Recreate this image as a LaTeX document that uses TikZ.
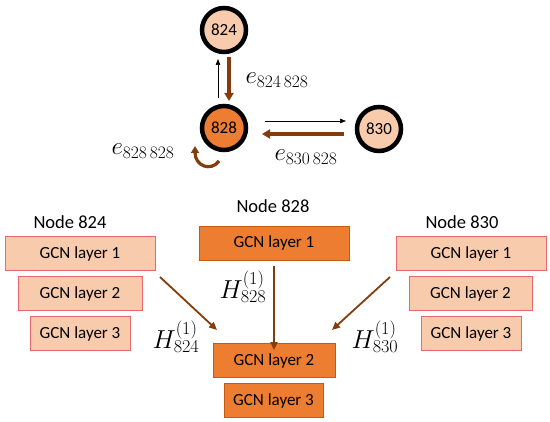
\RequirePackage{fix-cm}
\documentclass[tikz,border=0pt]{standalone}
\usepackage{fontspec}
\setmainfont{Carlito}
\usetikzlibrary{arrows.meta}
\definecolor{peach}{HTML}{F8CBAD}
\definecolor{orng}{HTML}{ED7D31}
\definecolor{brn}{HTML}{843C0C}
\definecolor{pinkb}{HTML}{E8686B}
\definecolor{orngb}{HTML}{C55A11}
\tikzset{
  gnode/.style={circle, draw=black, line width=4.5pt, minimum size=44pt, inner sep=0pt, font=\fontsize{17}{20}\selectfont},
  lightnode/.style={gnode, fill=peach},
  darknode/.style={gnode, fill=orng},
  gbox/.style={rectangle, minimum height=34pt, inner sep=0pt, font=\fontsize{17}{20}\selectfont},
  lightbox/.style={gbox, fill=peach, draw=pinkb, line width=1pt},
  darkbox/.style={gbox, fill=orng, draw=orngb, line width=0.8pt},
  title/.style={font=\fontsize{18.5}{22}\selectfont},
  elabel/.style={font=\fontsize{25}{30}\selectfont},
  hlabel/.style={font=\fontsize{26}{31}\selectfont},
  thinarrow/.style={-{Triangle[length=6pt,width=4.5pt]}, line width=0.6pt, black},
  brnarrow/.style={-{Triangle[length=8pt,width=9pt]}, line width=3.5pt, brn},
  layarrow/.style={-{Triangle[length=8pt,width=7pt]}, line width=1.8pt, brn},
}
\begin{document}
\begin{tikzpicture}[x=1pt,y=-1pt]
\useasboundingbox (0,0) rectangle (550,422);

% graph
\node[lightnode] (n824) at (224,30) {824};
\node[darknode]  (n828) at (224,128) {828};
\node[lightnode] (n830) at (379,129) {830};

\coordinate (a1s) at (218,98);  \coordinate (a1e) at (218,59);
\coordinate (a2s) at (229,57);  \coordinate (a2e) at (229,101);
\coordinate (a3s) at (265,121); \coordinate (a3e) at (346,121);
\coordinate (a4s) at (344,134); \coordinate (a4e) at (262,134);
\draw[thinarrow] (a1s) -- (a1e);
\draw[brnarrow] (a2s) -- (a2e);
\draw[thinarrow] (a3s) -- (a3e);
\draw[brnarrow] (a4s) -- (a4e);
\coordinate (ls) at (219,161);
\coordinate (le) at (195,146);
\draw[-{Triangle[length=7pt,width=8pt]}, line width=3.2pt, brn] (ls) .. controls (211,172) and (195,166) .. (le);

\node[elabel] (e1) at (277,80) {$e_{824\,828}$};
\node[elabel] (e2) at (306,157) {$e_{830\,828}$};
\node[elabel] (e3) at (143,151) {$e_{828\,828}$};

% titles
\node[title] (t824) at (70,222) {Node 824};
\node[title] (t828) at (273,206) {Node 828};
\node[title] (t830) at (462,222) {Node 830};

% left boxes
\node[lightbox, minimum width=150pt] (l1) at (80,253.5) {GCN layer 1};
\node[lightbox, minimum width=124pt] (l2) at (80,293.5) {GCN layer 2};
\node[lightbox, minimum width=100pt] (l3) at (80,333.5) {GCN layer 3};

% center boxes
\node[darkbox, minimum width=150pt] (c1) at (274,243) {GCN layer 1};
\node[darkbox, minimum width=122pt] (c2) at (274,360.5) {GCN layer 2};
\node[darkbox, minimum width=99pt] (c3) at (273.5,400.5) {GCN layer 3};

% right boxes
\node[lightbox, minimum width=150pt] (r1) at (471,254) {GCN layer 1};
\node[lightbox, minimum width=123pt] (r2) at (470.5,294) {GCN layer 2};
\node[lightbox, minimum width=100pt] (r3) at (471,333.5) {GCN layer 3};

% layer arrows
\coordinate (la) at (160,277); \coordinate (lb) at (217,330);
\coordinate (ra) at (390,277); \coordinate (rb) at (332,330);
\draw[layarrow] (la) -- (lb);
\draw[layarrow] ([yshift=-6pt]c1.south) -- ([yshift=-7pt]c2.north);
\draw[layarrow] (ra) -- (rb);

\node[hlabel] (h828) at (243,287) {$H^{(1)}_{828}$};
\node[hlabel] (h824) at (176,337) {$H^{(1)}_{824}$};
\node[hlabel] (h830) at (375,337) {$H^{(1)}_{830}$};
\end{tikzpicture}
\end{document}
